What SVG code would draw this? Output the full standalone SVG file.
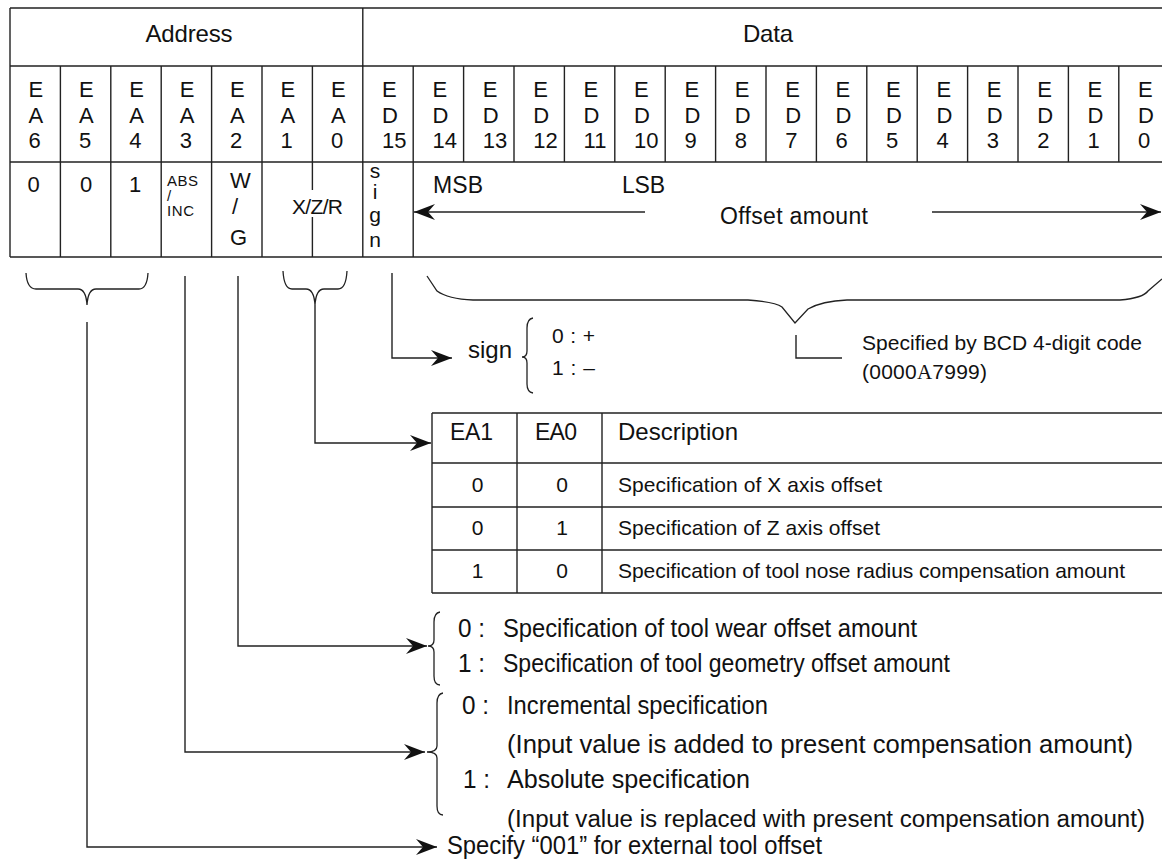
<svg xmlns="http://www.w3.org/2000/svg" width="1162" height="860" viewBox="0 0 1162 860">
<style>
text{font-family:"Liberation Sans",Arial,Helvetica,sans-serif;fill:#111}
.h{font-size:24px}
.b{font-size:22px}
.m{font-size:23px}
.s{font-size:15px}
.t{font-size:21px}
.l{font-size:25px}
.l2{font-size:23px}
.ln{stroke:#222;stroke-width:1.4;fill:none}
.br{stroke:#222;stroke-width:1.3;fill:none}
.c{stroke:#222;stroke-width:1.4;fill:none}
</style>
<defs>
<marker id="ah" viewBox="-22 -9 23 18" refX="0" refY="0" markerWidth="23" markerHeight="18" markerUnits="userSpaceOnUse" orient="auto">
<path d="M0,0 L-21,-8 L-14,0 L-21,8 Z" fill="#111"/>
</marker>
</defs>
<rect width="1162" height="860" fill="#fff"/>

<g id="main-table">
<path class="ln" d="M10,8H1162M10,66H1162M10,162H1162M10,257H1162M10,8V257M362.8,8V257"/>
<path class="ln" d="M60.4,66V257M110.8,66V257M161.2,66V257M211.6,66V257M262,66V257M312.4,66V162M312.4,162V190M312.4,217V257M413.2,66V257M463.6,66V162M514,66V162M564.4,66V162M614.8,66V162M665.2,66V162M715.6,66V162M766,66V162M816.4,66V162M866.8,66V162M917.2,66V162M967.6,66V162M1018,66V162M1068.4,66V162M1118.8,66V162"/>
<text class="h" x="145.5" y="42" textLength="87">Address</text>
<text class="h" x="743" y="42" textLength="50">Data</text>
<g class="b">
<text class="b" x="28.5" y="97">E<tspan x="28.5" y="123">A</tspan><tspan x="28.5" y="148">6</tspan></text>
<text class="b" x="78.9" y="97">E<tspan x="78.9" y="123">A</tspan><tspan x="78.9" y="148">5</tspan></text>
<text class="b" x="129.3" y="97">E<tspan x="129.3" y="123">A</tspan><tspan x="129.3" y="148">4</tspan></text>
<text class="b" x="179.7" y="97">E<tspan x="179.7" y="123">A</tspan><tspan x="179.7" y="148">3</tspan></text>
<text class="b" x="230.1" y="97">E<tspan x="230.1" y="123">A</tspan><tspan x="230.1" y="148">2</tspan></text>
<text class="b" x="280.5" y="97">E<tspan x="280.5" y="123">A</tspan><tspan x="280.5" y="148">1</tspan></text>
<text class="b" x="330.9" y="97">E<tspan x="330.9" y="123">A</tspan><tspan x="330.9" y="148">0</tspan></text>
<text class="b" x="382" y="97">E<tspan x="382" y="123">D</tspan><tspan x="382" y="148">15</tspan></text>
<text class="b" x="432.4" y="97">E<tspan x="432.4" y="123">D</tspan><tspan x="432.4" y="148">14</tspan></text>
<text class="b" x="482.8" y="97">E<tspan x="482.8" y="123">D</tspan><tspan x="482.8" y="148">13</tspan></text>
<text class="b" x="533.2" y="97">E<tspan x="533.2" y="123">D</tspan><tspan x="533.2" y="148">12</tspan></text>
<text class="b" x="583.6" y="97">E<tspan x="583.6" y="123">D</tspan><tspan x="583.6" y="148">11</tspan></text>
<text class="b" x="634" y="97">E<tspan x="634" y="123">D</tspan><tspan x="634" y="148">10</tspan></text>
<text class="b" x="684.4" y="97">E<tspan x="684.4" y="123">D</tspan><tspan x="684.4" y="148">9</tspan></text>
<text class="b" x="734.8" y="97">E<tspan x="734.8" y="123">D</tspan><tspan x="734.8" y="148">8</tspan></text>
<text class="b" x="785.2" y="97">E<tspan x="785.2" y="123">D</tspan><tspan x="785.2" y="148">7</tspan></text>
<text class="b" x="835.6" y="97">E<tspan x="835.6" y="123">D</tspan><tspan x="835.6" y="148">6</tspan></text>
<text class="b" x="886" y="97">E<tspan x="886" y="123">D</tspan><tspan x="886" y="148">5</tspan></text>
<text class="b" x="936.4" y="97">E<tspan x="936.4" y="123">D</tspan><tspan x="936.4" y="148">4</tspan></text>
<text class="b" x="986.8" y="97">E<tspan x="986.8" y="123">D</tspan><tspan x="986.8" y="148">3</tspan></text>
<text class="b" x="1037.2" y="97">E<tspan x="1037.2" y="123">D</tspan><tspan x="1037.2" y="148">2</tspan></text>
<text class="b" x="1087.6" y="97">E<tspan x="1087.6" y="123">D</tspan><tspan x="1087.6" y="148">1</tspan></text>
<text class="b" x="1138" y="97">E<tspan x="1138" y="123">D</tspan><tspan x="1138" y="148">0</tspan></text>
</g>
<text class="b" x="33.5" y="192" text-anchor="middle">0</text>
<text class="b" x="86" y="192" text-anchor="middle">0</text>
<text class="b" x="135" y="192" text-anchor="middle">1</text>
<text class="s" x="167" y="186" textLength="31">ABS</text>
<text class="s" x="167" y="201">/</text>
<text class="s" x="167" y="216" textLength="27">INC</text>
<text class="b" x="230" y="188">W</text>
<text class="b" x="232" y="214">/</text>
<text class="b" x="230" y="245">G</text>
<text class="t" x="292" y="214" textLength="51">X/Z/R</text>
<text class="t" x="375" y="178" text-anchor="middle">s</text>
<text class="t" x="375" y="199" text-anchor="middle">i</text>
<text class="t" x="375" y="222" text-anchor="middle">g</text>
<text class="t" x="375" y="247" text-anchor="middle">n</text>
<text class="m" x="433" y="193" textLength="50">MSB</text>
<text class="m" x="622" y="193" textLength="43">LSB</text>
<text class="m" x="720" y="224" textLength="148">Offset amount</text>
</g>

<g id="braces">
<path class="br" d="M26,273 Q27,289 36,289 L78,289 Q86,289 87,305 Q88,289 96,289 L139,289 Q147,289 148,273"/>
<path class="br" d="M283,271 Q284,289 292,289 L306,289 Q314,289 315,305 Q316,289 324,289 L338,289 Q346,289 347,271"/>
<path class="br" d="M427,276 L437,291 Q448,299 473,300 L748,300 Q775,302 782,307 L795,323 L808,309 Q822,301 847,300 L1120,300 Q1143,298 1148,291 L1162,279"/>
<path class="br" d="M533,318 Q527,319 527,328 L527,351 Q527,357 522,357 Q527,357 527,363 L527,384 Q527,392 533,393"/>
<path class="br" d="M440,612 Q434,613 434,622 L434,640 Q434,646 428,646 Q434,646 434,652 L434,676 Q434,685 440,685"/>
<path class="br" d="M443,693 Q437,694 437,703 L437,746 Q437,752 427,752 Q437,752 437,758 L437,806 Q437,815 443,815"/>
</g>

<g id="sign-note">
<text class="h" x="468" y="358" textLength="44">sign</text>
<text class="t" x="552" y="343" textLength="43">0 : +</text>
<text class="t" x="552" y="375" textLength="43">1 : –</text>
</g>

<g id="bcd-note">
<path class="ln" d="M796,335V358H842"/>
<text class="t" x="862" y="350" textLength="280">Specified by BCD 4-digit code</text>
<text class="t" x="862" y="379" textLength="125">(0000<tspan font-family="Liberation Serif,serif">A</tspan>7999)</text>
</g>

<g id="axis-table">
<path class="ln" d="M432,413H1162M432,463H1162M432,507H1162M432,550H1162M432,593H1162M432,413V593M517,413V593M602,413V593"/>
<text class="m" x="450" y="440" textLength="43">EA1</text>
<text class="m" x="535" y="440" textLength="42">EA0</text>
<text class="h" x="618" y="440" textLength="120">Description</text>
<text class="t" x="477.5" y="492" text-anchor="middle">0</text>
<text class="t" x="562" y="492" text-anchor="middle">0</text>
<text class="t" x="618" y="492" textLength="264">Specification of X axis offset</text>
<text class="t" x="477.5" y="535" text-anchor="middle">0</text>
<text class="t" x="562" y="535" text-anchor="middle">1</text>
<text class="t" x="618" y="535" textLength="262">Specification of Z axis offset</text>
<text class="t" x="477.5" y="578" text-anchor="middle">1</text>
<text class="t" x="562" y="578" text-anchor="middle">0</text>
<text class="t" x="618" y="578" textLength="507">Specification of tool nose radius compensation amount</text>
</g>

<g id="wg-note">
<text class="l" x="458" y="637" textLength="27" lengthAdjust="spacingAndGlyphs">0 :</text>
<text class="l" x="503" y="637" textLength="414" lengthAdjust="spacingAndGlyphs">Specification of tool wear offset amount</text>
<text class="l" x="458" y="672" textLength="27" lengthAdjust="spacingAndGlyphs">1 :</text>
<text class="l" x="503" y="672" textLength="447" lengthAdjust="spacingAndGlyphs">Specification of tool geometry offset amount</text>
</g>

<g id="absinc-note">
<text class="l" x="462" y="714" textLength="27" lengthAdjust="spacingAndGlyphs">0 :</text>
<text class="l" x="507" y="714" textLength="261" lengthAdjust="spacingAndGlyphs">Incremental specification</text>
<text class="l" x="507" y="753" textLength="626" lengthAdjust="spacingAndGlyphs">(Input value is added to present compensation amount)</text>
<text class="l" x="463" y="788" textLength="27" lengthAdjust="spacingAndGlyphs">1 :</text>
<text class="l" x="507" y="788" textLength="243" lengthAdjust="spacingAndGlyphs">Absolute specification</text>
<text class="l2" x="507" y="827" textLength="638" lengthAdjust="spacingAndGlyphs">(Input value is replaced with present compensation amount)</text>
</g>

<g id="ext-note">
<text class="l" x="447" y="854" textLength="375" lengthAdjust="spacingAndGlyphs">Specify “001” for external tool offset</text>
</g>

<g id="connectors">
<path class="c" d="M645,212H414" marker-end="url(#ah)"/>
<path class="c" d="M932,212H1161" marker-end="url(#ah)"/>
<path class="c" d="M392,273V358H452" marker-end="url(#ah)"/>
<path class="c" d="M315,305V443H431" marker-end="url(#ah)"/>
<path class="c" d="M238,276V646H427" marker-end="url(#ah)"/>
<path class="c" d="M185,276V752H425" marker-end="url(#ah)"/>
<path class="c" d="M87,322V847H437" marker-end="url(#ah)"/>
</g>
</svg>
